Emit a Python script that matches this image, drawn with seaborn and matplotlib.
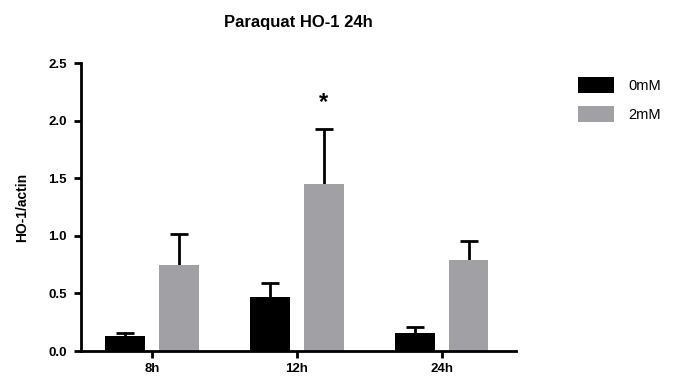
import matplotlib
matplotlib.use("Agg")
import matplotlib.pyplot as plt
import seaborn as sns
import pandas as pd
import numpy as np

categories = ["8h", "12h", "24h"]
groups = ["0mM", "2mM"]
means_0mM = [0.133, 0.466, 0.154]
means_2mM = [0.747, 1.450, 0.787]
err_0mM = [0.026, 0.121, 0.057]
err_2mM = [0.266, 0.474, 0.170]
yticks = [0.0, 0.5, 1.0, 1.5, 2.0, 2.5]
title = "Paraquat HO-1 24h"
ylabel = "HO-1/actin"
star_label = "*"
star_pos = ("12h", 2.16)

sns.set_theme(style="ticks")
plt.rcParams["font.family"] = ["Liberation Sans", "DejaVu Sans"]
plt.rcParams["text.color"] = "black"
plt.rcParams["axes.labelcolor"] = "black"
plt.rcParams["axes.titlecolor"] = "black"

df = pd.DataFrame({
    "time": categories * 2,
    "group": [groups[0]] * 3 + [groups[1]] * 3,
    "value": means_0mM + means_2mM,
    "err": err_0mM + err_2mM,
})

fig = plt.figure(figsize=(6.75, 3.85), dpi=100)
ax = fig.add_axes([0.12, 0.0883, 0.644, 0.748])

palette = {"0mM": "#000000", "2mM": "#A1A0A5"}
sns.barplot(data=df, x="time", y="value", hue="group", order=categories,
            hue_order=groups, palette=palette, width=0.74, gap=0.26,
            errorbar=None, saturation=1, ax=ax, linewidth=0, zorder=2)

# upward-only error bars from bar positions
for cont, g in zip(ax.containers, groups):
    sub = df[df["group"] == g].set_index("time").loc[categories]
    xs = [p.get_x() + p.get_width() / 2 for p in cont.patches]
    vals = sub["value"].values
    _, caps, _ = ax.errorbar(xs, vals,
                             yerr=[np.zeros(len(xs)), sub["err"].values],
                             fmt="none", ecolor="black", elinewidth=2,
                             capsize=6.5, capthick=2, zorder=1)
    for c in caps:
        if np.allclose(np.asarray(c.get_ydata(), dtype=float), vals):
            c.set_visible(False)

# significance star
cont2 = ax.containers[1]
ix = categories.index(star_pos[0])
px = cont2.patches[ix].get_x() + cont2.patches[ix].get_width() / 2
ax.text(px, star_pos[1], star_label, ha="center", va="center",
        fontsize=17, fontweight="bold", color="black")

ax.set_xlim(-0.49, 2.51)
ax.set_ylim(0, 2.5)
ax.set_yticks(yticks)
ax.set_yticklabels([f"{v:.1f}" for v in yticks])
ax.set_xlabel("")
ax.set_ylabel(ylabel, fontsize=10, fontweight="bold", labelpad=14,
              color="black")
ax.set_title(title, fontsize=12, fontweight="bold", pad=26, color="black")

for s in ["top", "right"]:
    ax.spines[s].set_visible(False)
for s in ["left", "bottom"]:
    ax.spines[s].set_linewidth(2)
    ax.spines[s].set_color("black")
ax.tick_params(axis="both", direction="out", length=5, width=2,
               colors="black", labelsize=9.5)
ax.tick_params(axis="y", pad=5)
for lab in ax.get_xticklabels() + ax.get_yticklabels():
    lab.set_fontweight("bold")

leg = ax.legend(loc="upper left", bbox_to_anchor=(0.847, 0.815),
                bbox_transform=fig.transFigure, frameon=False, fontsize=10.5,
                handlelength=2.5, handleheight=1.3, handletextpad=1.0,
                labelspacing=0.9, borderaxespad=0)
for t in leg.get_texts():
    t.set_color("black")

fig.savefig("out.png", dpi=100)
